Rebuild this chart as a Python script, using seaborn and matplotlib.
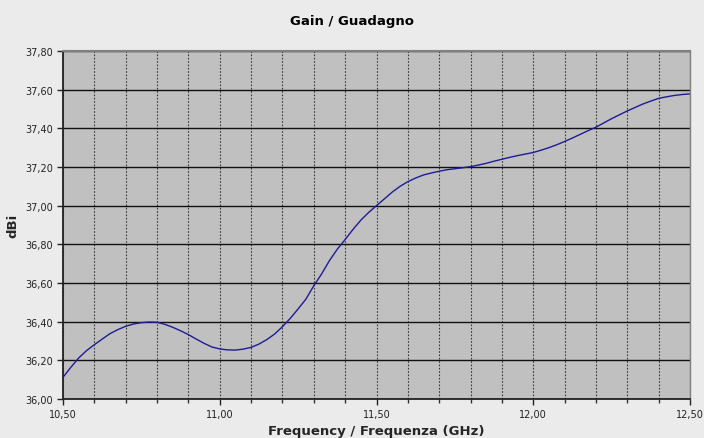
import numpy as np
import pandas as pd
import seaborn as sns
import matplotlib.pyplot as plt
from matplotlib.ticker import MultipleLocator, FuncFormatter

# frequency in GHz, 0.025 GHz steps
freq_ghz = [10.500, 10.525, 10.550, 10.575, 10.600, 10.625, 10.650, 10.675, 10.700, 10.725,
            10.750, 10.775, 10.800, 10.825, 10.850, 10.875, 10.900, 10.925, 10.950, 10.975,
            11.000, 11.025, 11.050, 11.075, 11.100, 11.125, 11.150, 11.175, 11.200, 11.225,
            11.250, 11.275, 11.300, 11.325, 11.350, 11.375, 11.400, 11.425, 11.450, 11.475,
            11.500, 11.525, 11.550, 11.575, 11.600, 11.625, 11.650, 11.675, 11.700, 11.725,
            11.750, 11.775, 11.800, 11.825, 11.850, 11.875, 11.900, 11.925, 11.950, 11.975,
            12.000, 12.025, 12.050, 12.075, 12.100, 12.125, 12.150, 12.175, 12.200, 12.225,
            12.250, 12.275, 12.300, 12.325, 12.350, 12.375, 12.400, 12.425, 12.450, 12.475,
            12.500]
gain_dbi = [36.112, 36.164, 36.212, 36.250, 36.281, 36.310, 36.338, 36.359, 36.376, 36.388,
            36.395, 36.398, 36.397, 36.386, 36.371, 36.353, 36.333, 36.310, 36.288, 36.269,
            36.259, 36.254, 36.253, 36.258, 36.267, 36.284, 36.307, 36.336, 36.374, 36.417,
            36.466, 36.517, 36.586, 36.647, 36.716, 36.775, 36.825, 36.877, 36.925, 36.965,
            37.000, 37.035, 37.070, 37.100, 37.124, 37.143, 37.159, 37.169, 37.178, 37.186,
            37.191, 37.196, 37.202, 37.210, 37.219, 37.230, 37.240, 37.250, 37.259, 37.267,
            37.275, 37.287, 37.300, 37.315, 37.332, 37.350, 37.369, 37.388, 37.406, 37.428,
            37.450, 37.470, 37.490, 37.508, 37.526, 37.541, 37.555, 37.563, 37.570, 37.575,
            37.578]

df = pd.DataFrame({"freq": freq_ghz, "gain": gain_dbi})

sns.set_theme(style="ticks")
plt.rcParams["font.family"] = ["DejaVu Sans"]

fig = plt.figure(figsize=(7.04, 4.39), dpi=100, facecolor="#ebebeb")
ax = fig.add_axes([63 / 704, 39 / 439, 627 / 704, 348 / 439])
ax.set_facecolor("#c0c0c0")

sns.lineplot(data=df, x="freq", y="gain", ax=ax, color="#1c1c96", linewidth=1.0)

ax.set_xlim(10.5, 12.5)
ax.set_ylim(36.0, 37.8)
ax.xaxis.set_major_locator(MultipleLocator(0.5))
ax.xaxis.set_minor_locator(MultipleLocator(0.1))
ax.yaxis.set_major_locator(MultipleLocator(0.2))

comma = FuncFormatter(lambda v, _: f"{v:.2f}".replace(".", ","))
ax.xaxis.set_major_formatter(comma)
ax.yaxis.set_major_formatter(comma)

ax.grid(axis="y", which="major", color="#111111", linestyle="-", linewidth=1.0)
ax.grid(axis="x", which="both", color="#3a3a3a", linestyle=(0, (1.5, 1.5)), linewidth=0.8)
ax.set_axisbelow(True)

ax.tick_params(axis="both", which="major", labelsize=7, colors="#222222",
               length=4, width=1, direction="out")
ax.tick_params(axis="x", which="minor", length=3, width=1, color="#333333")
ax.tick_params(axis="x", pad=3)
ax.tick_params(axis="y", pad=3)

for side in ["left", "bottom"]:
    ax.spines[side].set_color("#222222")
    ax.spines[side].set_linewidth(1.3)
ax.spines["top"].set_color("#808080")
ax.spines["top"].set_linewidth(1.5)
ax.spines["right"].set_color("#808080")
ax.spines["right"].set_linewidth(1.0)

ax.set_xlabel("Frequency / Frequenza (GHz)", fontsize=9.5, fontweight="bold", labelpad=4)
ax.set_ylabel("dBi", fontsize=9.5, fontweight="bold", labelpad=4)
fig.text(0.5, 1 - 21 / 439, "Gain / Guadagno", ha="center", va="center",
         fontsize=9.5, fontweight="bold", color="black")

fig.savefig("out.png", dpi=100, facecolor=fig.get_facecolor())
